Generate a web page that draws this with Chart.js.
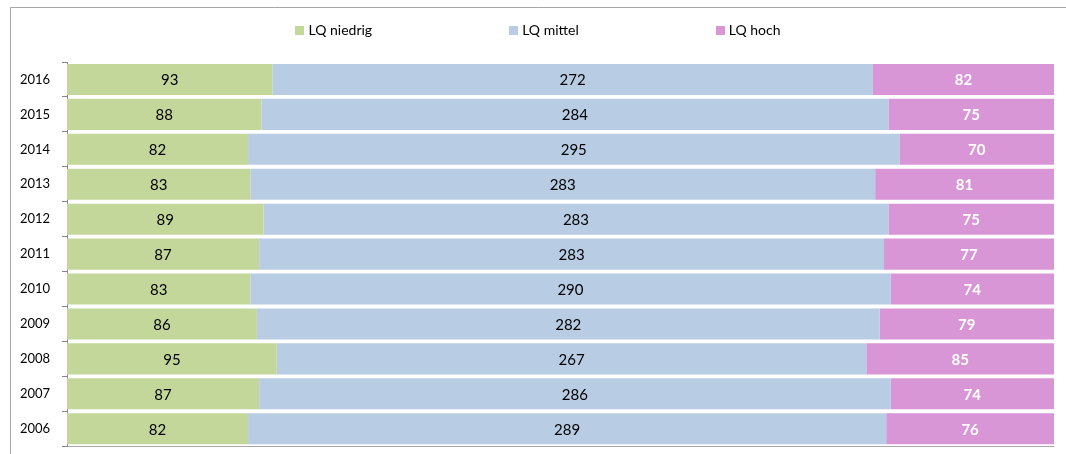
<!DOCTYPE html>
<html>
<head>
<meta charset="utf-8">
<script src="https://cdn.jsdelivr.net/npm/chart.js@4/dist/chart.umd.min.js"></script>
<style>
  html, body { margin: 0; padding: 0; background: #fff; }
  #wrap { width: 1066px; height: 454px; position: relative; }
</style>
</head>
<body>
<div id="wrap"><canvas id="myChart" width="1066" height="454"></canvas></div>
<script>
'use strict';
const years = ['2016', '2015', '2014', '2013', '2012', '2011', '2010', '2009', '2008', '2007', '2006'];
const lqLow = [93, 88, 82, 83, 89, 87, 83, 86, 95, 87, 82];
const lqMid = [272, 284, 295, 283, 283, 283, 290, 282, 267, 286, 289];
const lqHigh = [82, 75, 70, 81, 75, 77, 74, 79, 85, 74, 76];

const seriesNames = ['LQ niedrig', 'LQ mittel', 'LQ hoch'];
const seriesColors = ['#c4d79b', '#b8cce4', '#d896d6'];
const fontFamily = 'Lato, "Open Sans", sans-serif';

// share of each row, so every bar runs the full width
function share(values, i) {
  const total = lqLow[i] + lqMid[i] + lqHigh[i];
  return values[i] / total * 100;
}
function toShare(values) {
  let out = [];
  for (let i = 0; i < values.length; i++) {
    out.push(share(values, i));
  }
  return out;
}

const rawValues = [lqLow, lqMid, lqHigh];

// outer frame, bottom line and the legend
const framePlugin = {
  id: 'frame',
  beforeDraw(chart) {
    const ctx = chart.ctx;
    const area = chart.chartArea;
    ctx.save();
    ctx.strokeStyle = '#a6a6a6';
    ctx.lineWidth = 1;
    ctx.beginPath();
    ctx.moveTo(10.5, chart.height);
    ctx.lineTo(10.5, 7.5);
    ctx.lineTo(chart.width, 7.5);
    ctx.stroke();
    ctx.beginPath();
    ctx.moveTo(area.left - 5, Math.round(area.bottom) + 0.5);
    ctx.lineTo(area.right, Math.round(area.bottom) + 0.5);
    ctx.stroke();

    // legend
    ctx.font = '14px ' + fontFamily;
    ctx.textBaseline = 'middle';
    ctx.textAlign = 'left';
    const box = 9;
    const gap = 4;
    const spacing = 137;
    let widths = seriesNames.map(n => box + gap + ctx.measureText(n).width);
    let total = widths.reduce((a, b) => a + b, 0) + spacing * (widths.length - 1);
    let x = (chart.width - total) / 2 + 5;
    const y = 30.5;
    for (let i = 0; i < seriesNames.length; i++) {
      ctx.fillStyle = seriesColors[i];
      ctx.fillRect(Math.round(x), Math.round(y - 4.5), box, box);
      ctx.fillStyle = '#000';
      ctx.fillText(seriesNames[i], x + box + gap, y);
      x += widths[i] + spacing;
    }
    ctx.restore();
  }
};

// value labels in the middle of each segment
const valuePlugin = {
  id: 'values',
  afterDatasetsDraw(chart) {
    const ctx = chart.ctx;
    ctx.save();
    ctx.textAlign = 'center';
    ctx.textBaseline = 'middle';
    chart.data.datasets.forEach((ds, d) => {
      const meta = chart.getDatasetMeta(d);
      meta.data.forEach((bar, i) => {
        if (d === 2) {
          ctx.font = 'bold 15px ' + fontFamily;
          ctx.fillStyle = '#fff';
        } else {
          ctx.font = '15px ' + fontFamily;
          ctx.fillStyle = '#000';
        }
        ctx.fillText(String(rawValues[d][i]), (bar.x + bar.base) / 2, bar.y + 1);
      });
    });
    ctx.restore();
  }
};

let ctx = document.getElementById('myChart').getContext('2d');
let chart = new Chart(ctx, {
  type: 'bar',
  data: {
    labels: years,
    datasets: [{
      label: seriesNames[0],
      backgroundColor: seriesColors[0],
      data: toShare(lqLow)
    },
    {
      label: seriesNames[1],
      backgroundColor: seriesColors[1],
      data: toShare(lqMid)
    },
    {
      label: seriesNames[2],
      backgroundColor: seriesColors[2],
      data: toShare(lqHigh)
    }]
  },
  options: {
    indexAxis: 'y',
    responsive: false,
    maintainAspectRatio: false,
    animation: false,
    layout: {
      autoPadding: false,
      padding: { top: 62, bottom: 6, right: 12, left: 20 }
    },
    datasets: {
      bar: {
        categoryPercentage: 1,
        barPercentage: 0.89,
        borderWidth: 0
      }
    },
    scales: {
      x: {
        display: false,
        stacked: true,
        min: 0,
        max: 100
      },
      y: {
        stacked: true,
        afterFit(scale) {
          scale.width = 47;
        },
        grid: {
          offset: true,
          drawOnChartArea: false,
          drawTicks: true,
          tickLength: 5,
          color: '#868686'
        },
        border: { display: true, color: '#868686' },
        ticks: {
          color: '#000',
          padding: 0,
          crossAlign: 'far',
          font: { family: fontFamily, size: 13 }
        }
      }
    },
    plugins: {
      legend: { display: false },
      tooltip: { enabled: false }
    }
  },
  plugins: [framePlugin, valuePlugin]
});
</script>
</body>
</html>
